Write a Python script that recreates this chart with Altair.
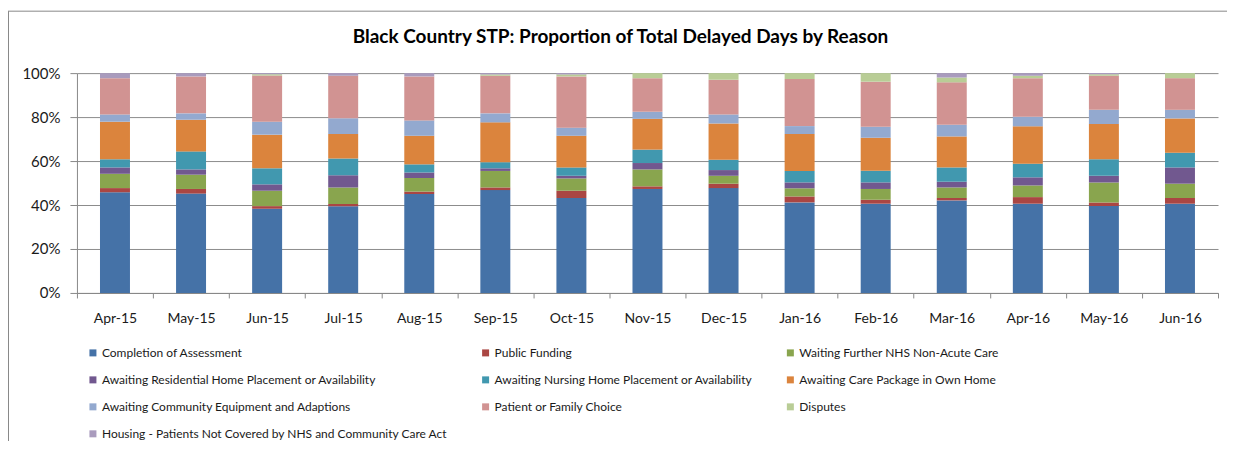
import altair as alt
import pandas as pd

months = ["Apr-15", "May-15", "Jun-15", "Jul-15", "Aug-15", "Sep-15", "Oct-15",
          "Nov-15", "Dec-15", "Jan-16", "Feb-16", "Mar-16", "Apr-16", "May-16", "Jun-16"]

reasons = [
    "Completion of Assessment",
    "Public Funding",
    "Waiting Further NHS Non-Acute Care",
    "Awaiting Residential Home Placement or Availability",
    "Awaiting Nursing Home Placement or Availability",
    "Awaiting Care Package in Own Home",
    "Awaiting Community Equipment and Adaptions",
    "Patient or Family Choice",
    "Disputes",
    "Housing - Patients Not Covered by NHS and Community Care Act",
]

colors = ["#4572A7", "#AA4643", "#89A54E", "#71588F", "#4198AF",
          "#DB843D", "#93A9CF", "#D19392", "#B9CD96", "#A99BBD"]

completion = [45.8, 45.2, 38.3, 39.4, 45.0, 46.8, 43.2, 47.3, 47.7, 41.2, 40.6, 42.1, 40.6, 39.5, 40.6]
public_funding = [1.9, 2.1, 1.2, 1.1, 1.1, 1.2, 3.3, 1.2, 2.0, 2.7, 1.8, 1.1, 3.0, 1.7, 2.6]
waiting_nhs = [6.5, 6.5, 7.0, 7.5, 6.2, 7.5, 5.6, 7.7, 3.6, 3.7, 4.9, 4.8, 5.3, 9.0, 6.5]
residential = [2.9, 2.4, 2.9, 5.5, 2.5, 1.2, 1.2, 2.9, 2.6, 2.7, 3.0, 2.6, 3.7, 3.1, 7.4]
nursing = [3.7, 8.2, 7.3, 7.7, 3.7, 2.8, 3.8, 6.1, 4.7, 5.2, 5.3, 6.5, 6.2, 7.5, 6.7]
care_package = [17.1, 14.4, 15.3, 11.1, 13.0, 18.1, 14.4, 14.0, 16.5, 16.8, 15.0, 14.1, 17.0, 16.0, 15.6]
equipment = [3.3, 2.9, 5.9, 7.2, 7.0, 4.1, 3.7, 3.2, 4.1, 3.6, 5.0, 5.3, 4.4, 6.5, 3.9]
patient_choice = [16.5, 16.8, 21.0, 19.3, 20.0, 17.1, 23.3, 15.3, 15.8, 21.4, 20.5, 19.3, 17.5, 15.5, 14.4]
disputes = [0.0, 0.0, 0.6, 0.0, 0.0, 0.6, 0.9, 2.3, 3.0, 2.7, 3.9, 2.2, 1.1, 0.7, 2.3]
housing = [2.3, 1.5, 0.5, 1.2, 1.5, 0.6, 0.6, 0.0, 0.0, 0.0, 0.0, 2.0, 1.2, 0.5, 0.0]

series = [completion, public_funding, waiting_nhs, residential, nursing,
          care_package, equipment, patient_choice, disputes, housing]

rows = []
for ri, (reason, vals) in enumerate(zip(reasons, series)):
    for m, v in zip(months, vals):
        rows.append({"Month": m, "Reason": reason, "Value": v, "Order": ri})
df = pd.DataFrame(rows)

FONT = "Lato"

bars = alt.Chart(df).mark_bar(size=30).encode(
    x=alt.X("Month:N", sort=months, title=None,
            scale=alt.Scale(paddingInner=0, paddingOuter=0),
            axis=alt.Axis(labelAngle=0, labelFontSize=14, labelFont=FONT, labelColor="#1a1a1a",
                          tickBand="extent", tickSize=5, tickColor="#888888",
                          domainColor="#888888", labelPadding=14, grid=False)),
    y=alt.Y("Value:Q", stack="normalize", title=None,
            scale=alt.Scale(domain=[0, 1]),
            axis=alt.Axis(format=".0%", values=[0, 0.2, 0.4, 0.6, 0.8, 1.0],
                          labelFontSize=15, labelFont=FONT, labelColor="#1a1a1a",
                          tickSize=7, tickColor="#888888", domainColor="#888888",
                          gridColor="#8c8c8c", gridWidth=1, labelPadding=10)),
    color=alt.Color("Reason:N", sort=reasons,
                    scale=alt.Scale(domain=reasons, range=colors),
                    legend=alt.Legend(title=None, orient="none", legendX=10, legendY=274,
                                      direction="horizontal",
                                      columns=3, symbolType="square", symbolSize=49,
                                      symbolStrokeWidth=0, labelFontSize=12, labelFont=FONT,
                                      labelColor="#1a1a1a", labelLimit=500, rowPadding=15,
                                      columnPadding=31, labelOffset=3, padding=0,
                                      gridAlign="each")),
    order=alt.Order("Order:Q", sort="ascending"),
)

frame_df = pd.DataFrame({"k": [0]})
top_border = alt.Chart(frame_df).mark_rule(color="#888888", strokeWidth=1).encode(
    x=alt.value(-69), x2=alt.value(1160), y=alt.value(-62))
left_border = alt.Chart(frame_df).mark_rule(color="#888888", strokeWidth=1).encode(
    x=alt.value(-68.5), y=alt.value(-62), y2=alt.value(380))

chart = alt.layer(bars, top_border, left_border).properties(
    width=1142, height=220,
    title=alt.TitleParams("Black Country STP: Proportion of Total Delayed Days by Reason",
                          font=FONT, fontSize=19, fontWeight="bold", color="#000000",
                          anchor="middle", offset=-36, dx=-27),
    autosize=alt.AutoSizeParams(type="none"),
    padding={"left": 69, "top": 65, "right": 9, "bottom": 148},
).configure_view(stroke=None)

chart.save("out.html", embed_options={"renderer": "svg", "actions": False})
